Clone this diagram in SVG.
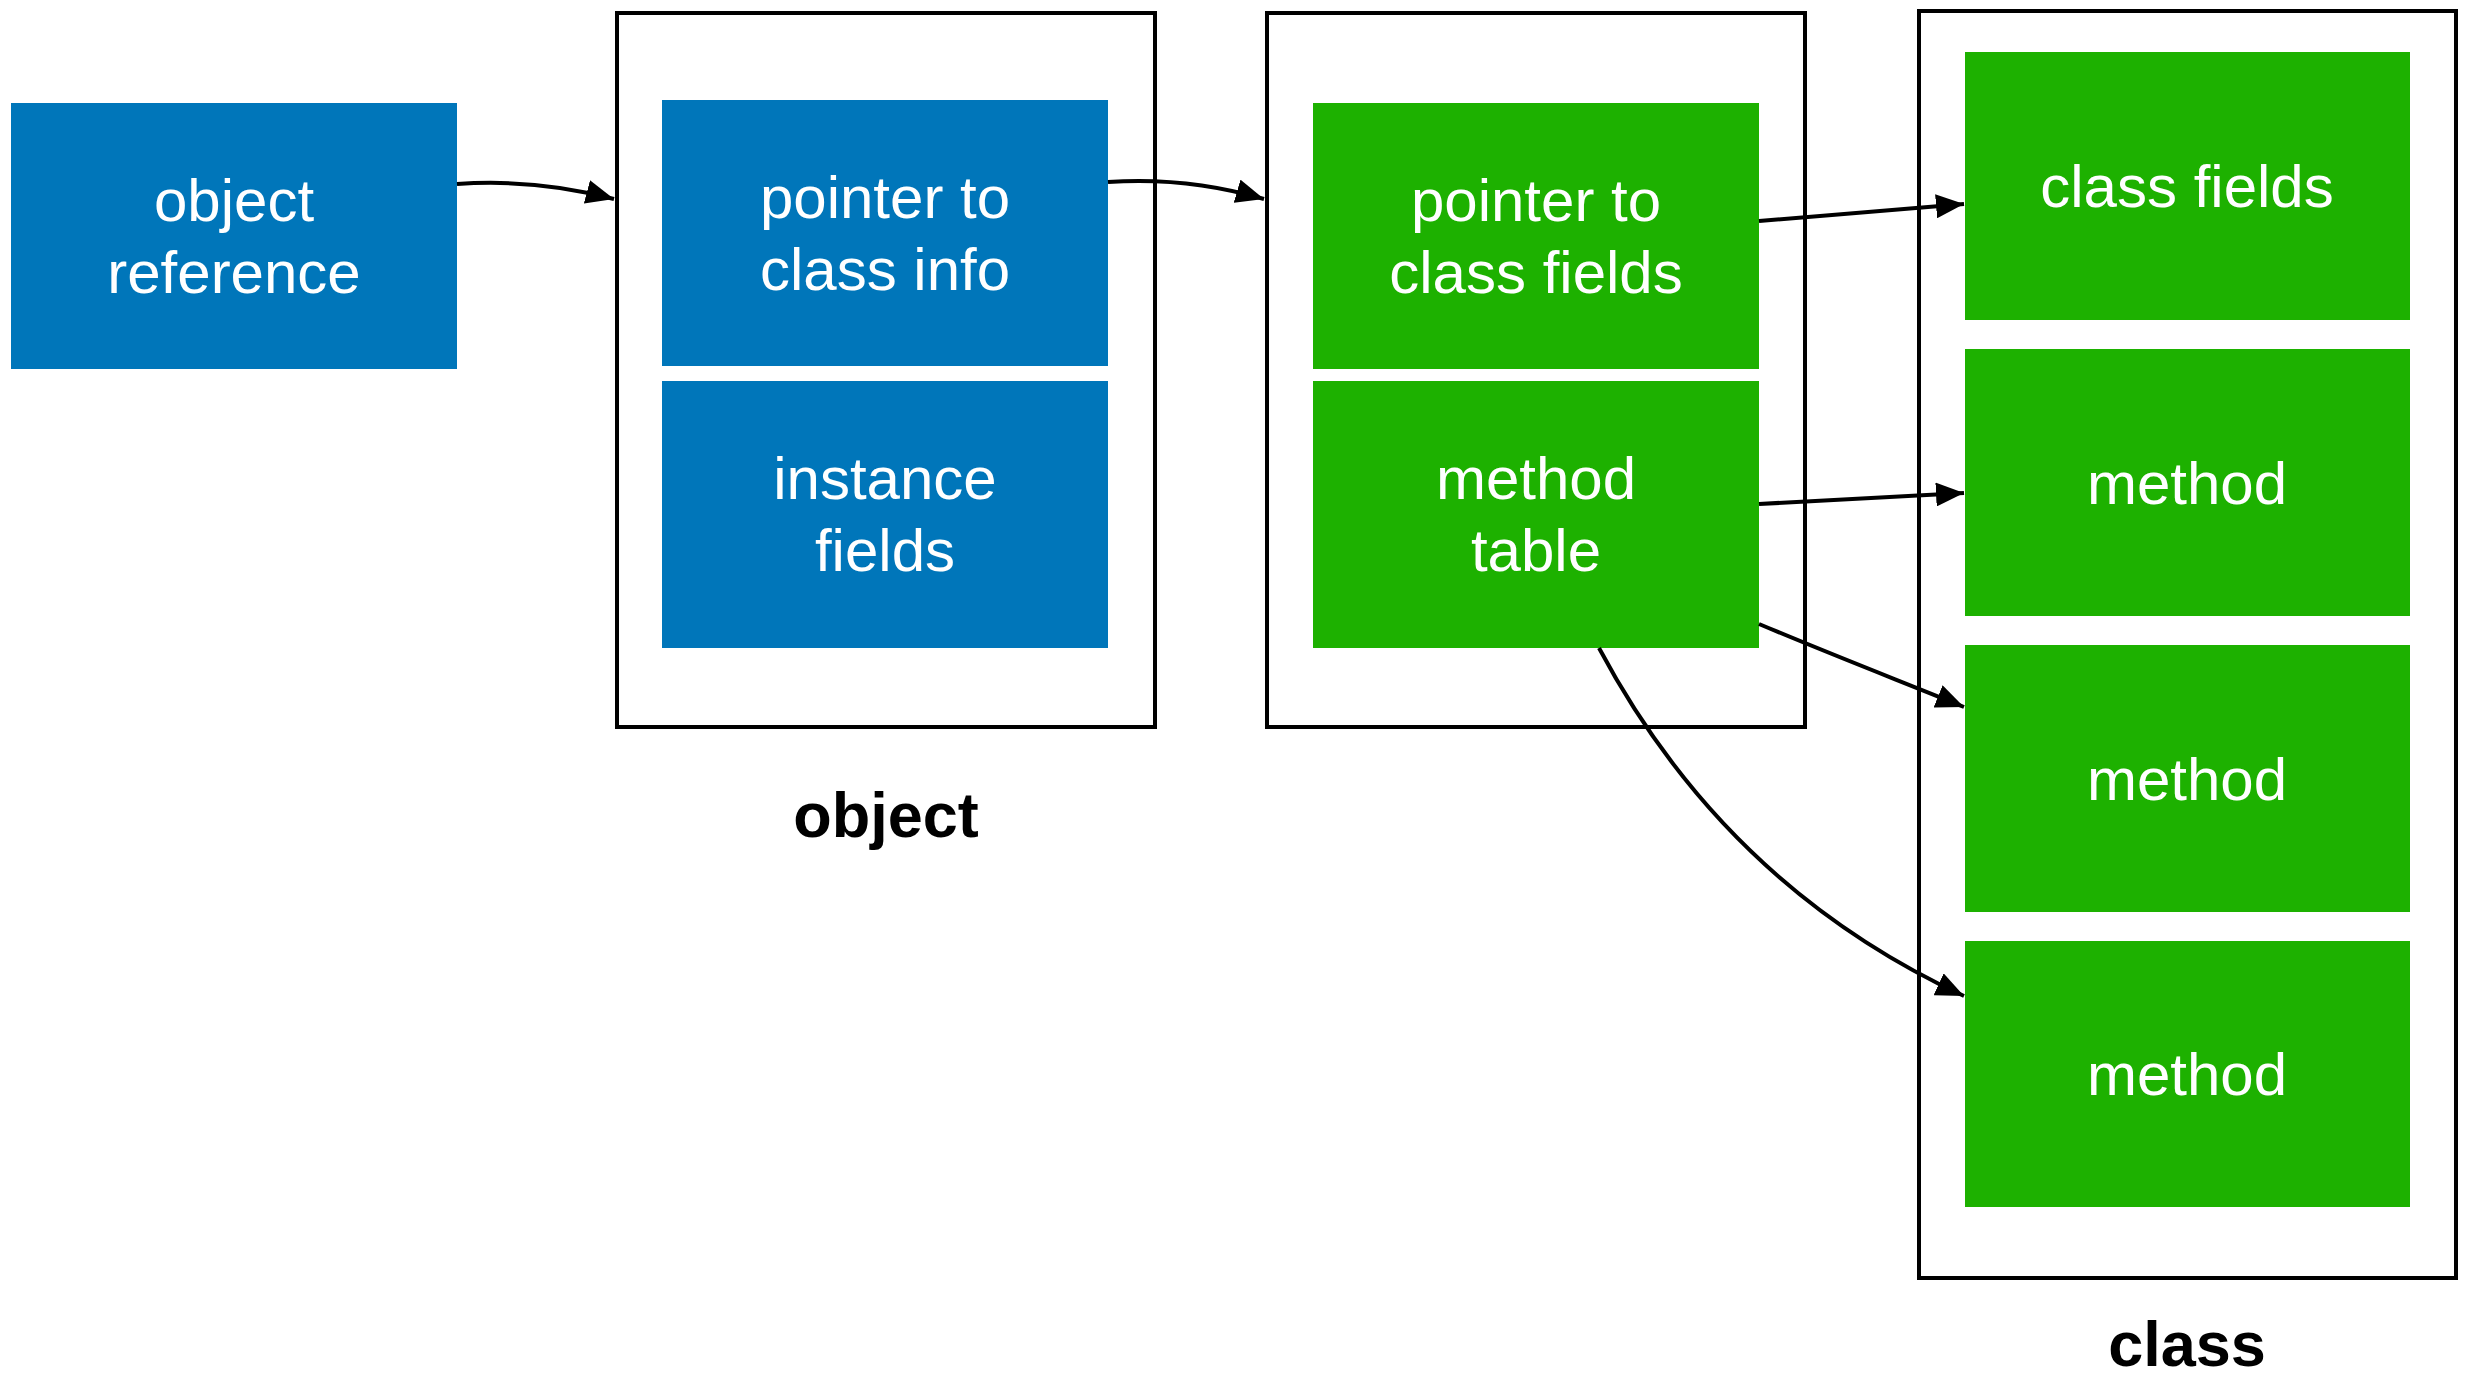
<svg xmlns="http://www.w3.org/2000/svg" width="2468" height="1380" viewBox="0 0 2468 1380">
  <style>
    .blue { fill: #0076BA; }
    .green { fill: #1DB100; }
    .frame { fill: none; stroke: #000; stroke-width: 4; }
    .lbl { fill: #fff; font-family: "Liberation Sans", Arial, sans-serif; font-size: 60px; text-anchor: middle; }
    .cap { fill: #000; font-family: "Liberation Sans", Arial, sans-serif; font-size: 63px; font-weight: bold; text-anchor: middle; }
    .link { fill: none; stroke: #000; stroke-width: 4; marker-end: url(#head); }
  </style>
  <defs>
    <marker id="head" markerUnits="userSpaceOnUse" markerWidth="28" markerHeight="24" refX="28" refY="12" orient="auto">
      <path d="M0,0 L28,12 L0,24 Z" fill="#000"/>
    </marker>
  </defs>
  <rect width="2468" height="1380" fill="#fff"/>

  <g id="object-reference">
    <rect class="blue" x="11" y="103" width="446" height="266"/>
    <text class="lbl" x="234" y="221">object</text>
    <text class="lbl" x="234" y="293">reference</text>
  </g>

  <g id="object">
    <rect class="frame" x="617" y="13" width="538" height="714"/>
    <text class="cap" x="886" y="837">object</text>
  </g>

  <g id="pointer-to-class-info">
    <rect class="blue" x="662" y="100" width="446" height="266"/>
    <text class="lbl" x="885" y="218">pointer to</text>
    <text class="lbl" x="885" y="290">class info</text>
  </g>

  <g id="instance-fields">
    <rect class="blue" x="662" y="381" width="446" height="267"/>
    <text class="lbl" x="885" y="499">instance</text>
    <text class="lbl" x="885" y="571">fields</text>
  </g>

  <g id="class-info">
    <rect class="frame" x="1267" y="13" width="538" height="714"/>
  </g>

  <g id="pointer-to-class-fields">
    <rect class="green" x="1313" y="103" width="446" height="266"/>
    <text class="lbl" x="1536" y="221">pointer to</text>
    <text class="lbl" x="1536" y="293">class fields</text>
  </g>

  <g id="method-table">
    <rect class="green" x="1313" y="381" width="446" height="267"/>
    <text class="lbl" x="1536" y="499">method</text>
    <text class="lbl" x="1536" y="571">table</text>
  </g>

  <g id="class">
    <rect class="frame" x="1919" y="11" width="537" height="1267"/>
    <text class="cap" x="2187" y="1366">class</text>
  </g>

  <g id="class-fields">
    <rect class="green" x="1965" y="52" width="445" height="268"/>
    <text class="lbl" x="2187" y="207">class fields</text>
  </g>

  <g id="method-1">
    <rect class="green" x="1965" y="349" width="445" height="267"/>
    <text class="lbl" x="2187" y="504">method</text>
  </g>

  <g id="method-2">
    <rect class="green" x="1965" y="645" width="445" height="267"/>
    <text class="lbl" x="2187" y="800">method</text>
  </g>

  <g id="method-3">
    <rect class="green" x="1965" y="941" width="445" height="266"/>
    <text class="lbl" x="2187" y="1095">method</text>
  </g>

  <g id="connectors">
    <path class="link" d="M457,184 C515,180 565,186 614,199"/>
    <path class="link" d="M1108,182 C1166,178 1216,185 1264,199"/>
    <path class="link" d="M1759,221 L1964,204"/>
    <path class="link" d="M1759,504 L1964,493"/>
    <path class="link" d="M1759,624 C1830,654 1900,681 1964,707"/>
    <path class="link" d="M1599,648 C1680,800 1800,920 1964,996"/>
  </g>
</svg>
